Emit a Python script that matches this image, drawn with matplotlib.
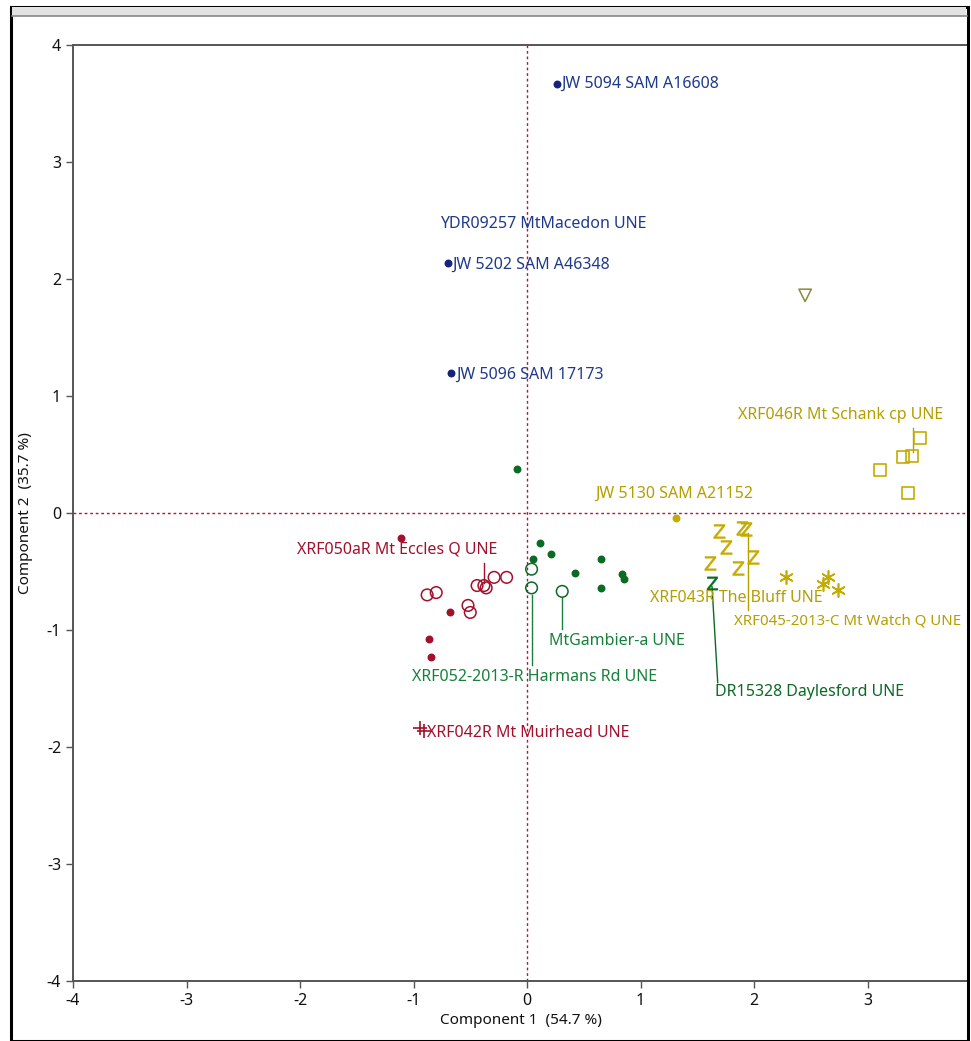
import numpy as np
import matplotlib.pyplot as plt
from matplotlib.patches import Rectangle
from matplotlib.lines import Line2D

plt.rcParams['font.family'] = ['Noto Sans', 'DejaVu Sans']
plt.rcParams['axes.unicode_minus'] = False

# ---- data (component 1, component 2)
blue_x = [0.26, -0.70, -0.67]
blue_y = [3.67, 2.14, 1.20]

green_dot_x = [-0.09, 0.11, 0.21, 0.05, 0.42, 0.65, 0.65, 0.84, 0.85]
green_dot_y = [0.38, -0.26, -0.35, -0.39, -0.51, -0.39, -0.64, -0.52, -0.56]
green_open_x = [0.04, 0.04, 0.31]
green_open_y = [-0.48, -0.64, -0.67]
green_z_x = [1.63]
green_z_y = [-0.60]

red_dot_x = [-1.11, -0.68, -0.86, -0.85]
red_dot_y = [-0.21, -0.85, -1.08, -1.23]
red_open_x = [-0.88, -0.80, -0.52, -0.50, -0.44, -0.38, -0.36, -0.29, -0.18]
red_open_y = [-0.70, -0.68, -0.79, -0.85, -0.62, -0.62, -0.64, -0.55, -0.55]
red_plus_x = [-0.94, -0.91]
red_plus_y = [-1.84, -1.86]

yel_dot_x = [1.31]
yel_dot_y = [-0.04]
yel_tri_x = [2.45]
yel_tri_y = [1.86]
yel_sq_x = [3.11, 3.31, 3.39, 3.46, 3.36]
yel_sq_y = [0.37, 0.48, 0.49, 0.64, 0.17]
yel_z_x = [1.69, 1.89, 1.93, 1.75, 1.99, 1.61, 1.86]
yel_z_y = [-0.15, -0.13, -0.14, -0.29, -0.38, -0.43, -0.47]
yel_ast_x = [2.28, 2.65, 2.61, 2.74]
yel_ast_y = [-0.55, -0.55, -0.61, -0.66]

# colours
blue = '#17237a'
blue_t = '#1f3a8c'
red = '#a3102c'
green = '#0b6a24'
green_t = '#17803a'
yellow = '#c4ab00'
yellow_t = '#b59e00'

fig = plt.figure(figsize=(9.71, 10.41), dpi=100)
W, H = 971, 1041

# window frame
fig.patches.append(Rectangle((11 / W, 0), (968 - 11) / W, 1 - 7 / H, transform=fig.transFigure,
                             fill=False, ec='black', lw=2.2, zorder=0))
fig.patches.append(Rectangle((12 / W, 1 - 16 / H), (966 - 12) / W, 9 / H, transform=fig.transFigure,
                             fc='#e2e2e2', ec='none', zorder=0))
fig.lines.append(Line2D([12 / W, 967 / W], [1 - 16 / H, 1 - 16 / H], transform=fig.transFigure,
                        color='#888888', lw=1.2))

ax = fig.add_axes([73 / W, 1 - 981 / H, (968 - 73) / W, (981 - 45) / H])
ax.set_xlim(-4.0, 3.885)
ax.set_ylim(-4.0, 4.0)

ax.axvline(0, color='#c0103a', lw=1.0, ls=(0, (2, 2)), zorder=1)
ax.axhline(0, color='#c0103a', lw=1.0, ls=(0, (2, 2)), zorder=1)

# markers
ax.scatter(blue_x, blue_y, s=22, color=blue, zorder=3)
ax.scatter(green_dot_x, green_dot_y, s=22, color=green, zorder=3)
ax.scatter(green_open_x, green_open_y, s=70, facecolors='none', edgecolors=green, lw=1.1, zorder=3)
ax.scatter(green_z_x, green_z_y, s=90, marker='$\\mathsf{Z}$', color=green, lw=0.4, zorder=3)
ax.scatter(red_dot_x, red_dot_y, s=22, color=red, zorder=3)
ax.scatter(red_open_x, red_open_y, s=70, facecolors='none', edgecolors=red, lw=1.1, zorder=3)
ax.scatter(red_plus_x, red_plus_y, s=90, marker='+', color=red, lw=1.2, zorder=3)
ax.scatter(yel_dot_x, yel_dot_y, s=22, color=yellow, zorder=3)
ax.scatter(yel_tri_x, yel_tri_y, s=80, marker='v', facecolors='none', edgecolors='#8a8a40', lw=1.1, zorder=3)
ax.scatter(yel_sq_x, yel_sq_y, s=75, marker='s', facecolors='none', edgecolors=yellow, lw=1.2, zorder=3)
ax.scatter(yel_z_x, yel_z_y, s=100, marker='$\\mathsf{Z}$', color=yellow, lw=0.4, zorder=3)
ax.scatter(yel_ast_x, yel_ast_y, s=90, marker=(6, 2, 0), color=yellow, lw=1.2, zorder=3)

# point labels
fs = 11.5
ax.annotate('JW 5094 SAM A16608', (blue_x[0], blue_y[0]), xytext=(5, 0), textcoords='offset pixels',
            va='center', fontsize=fs, color=blue_t)
ax.annotate('JW 5202 SAM A46348', (blue_x[1], blue_y[1]), xytext=(5, -2), textcoords='offset pixels',
            va='center', fontsize=fs, color=blue_t)
ax.annotate('JW 5096 SAM 17173', (blue_x[2], blue_y[2]), xytext=(5, -2), textcoords='offset pixels',
            va='center', fontsize=fs, color=blue_t)
ax.text(-0.77, 2.47, 'YDR09257 MtMacedon UNE', va='center', fontsize=fs, color=blue_t)

ax.text(-2.03, -0.31, 'XRF050aR Mt Eccles Q UNE', va='center', fontsize=fs, color=red)
ax.plot([-0.38, -0.38], [-0.43, -0.60], color=red, lw=1.0)
ax.annotate('XRF042R Mt Muirhead UNE', (red_plus_x[1], red_plus_y[1]), xytext=(3, -2),
            textcoords='offset pixels', va='center', fontsize=fs, color=red)

ax.text(0.19, -1.09, 'MtGambier-a UNE', va='center', fontsize=fs, color=green_t)
ax.plot([0.31, 0.31], [-0.73, -0.99], color=green_t, lw=1.0)
ax.text(-1.01, -1.40, 'XRF052-2013-R Harmans Rd UNE', va='center', fontsize=fs, color=green_t)
ax.plot([0.044, 0.044], [-0.70, -1.30], color=green_t, lw=1.0)
ax.text(1.66, -1.53, 'DR15328 Daylesford UNE', va='center', fontsize=fs, color=green)
ax.plot([1.63, 1.68], [-0.63, -1.45], color=green, lw=1.0)

ax.text(0.60, 0.16, 'JW 5130 SAM A21152', va='center', fontsize=fs, color=yellow_t)
ax.text(1.86, 0.84, 'XRF046R Mt Schank cp UNE', va='center', fontsize=fs, color=yellow_t)
ax.plot([3.40, 3.40], [0.73, 0.52], color=yellow_t, lw=1.0)
ax.text(1.08, -0.73, 'XRF043R The Bluff UNE', va='center', fontsize=fs, color=yellow_t)
ax.text(1.82, -0.92, 'XRF045-2013-C Mt Watch Q UNE', va='center', fontsize=10.8, color=yellow_t)
ax.plot([1.95, 1.95], [-0.17, -0.83], color=yellow_t, lw=1.0)

# axes styling
for s in ['left', 'top', 'bottom']:
    ax.spines[s].set_color('#555555')
    ax.spines[s].set_linewidth(1.4)
ax.spines['right'].set_visible(False)
ax.set_xticks(np.arange(-4, 4))
ax.set_yticks(np.arange(-4, 5))
ax.tick_params(direction='out', length=5, width=1, colors='#555555', labelcolor='#111111',
               labelsize=11.5)
ax.set_xlabel('Component 1  (54.7 %)', fontsize=11, color='#111111', labelpad=3)
ax.set_ylabel('Component 2  (35.7 %)', fontsize=11, color='#111111', labelpad=10)

fig.savefig('out.png', dpi=100)
